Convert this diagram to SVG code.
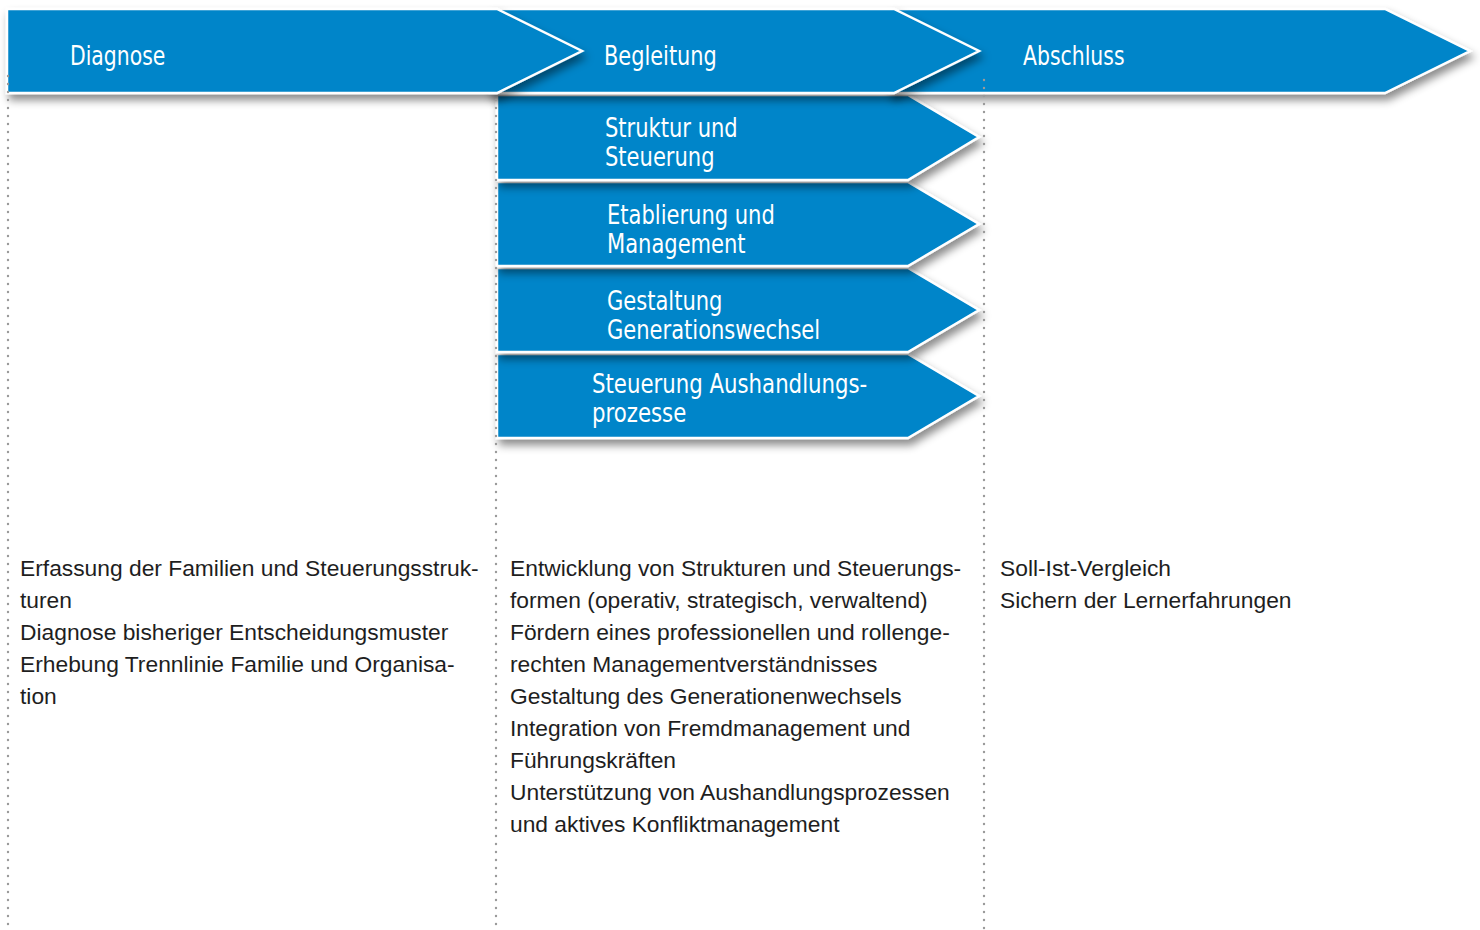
<svg xmlns="http://www.w3.org/2000/svg" width="1480" height="930" viewBox="0 0 1480 930">
<defs>
<filter id="sh" x="-10%" y="-30%" width="130%" height="180%">
<feDropShadow dx="3" dy="6" stdDeviation="4" flood-color="#000" flood-opacity="0.45"/>
</filter>
<style>
.ar{fill:#0085c9;stroke:#fff;stroke-width:2.5;stroke-linejoin:miter;filter:url(#sh)}
.t{font-family:"DejaVu Sans Condensed","Liberation Sans Narrow","Roboto Condensed","DejaVu Sans",sans-serif;font-stretch:condensed;fill:#fff}
.h{font-size:27px}
.s{font-size:26px}
.b{font-family:"Liberation Sans",Arial,sans-serif;font-size:22.8px;fill:#1e1e1e}
.dot{stroke:#9a9a9a;stroke-width:2.4;stroke-linecap:round;stroke-dasharray:0 8;fill:none}
</style>
</defs>
<rect width="1480" height="930" fill="#fff"/>
<g id="sub4"><polygon class="ar" points="497,354 908,354 979,396 908,438 497,438"/>
<text class="t s" transform="translate(592,393) scale(0.91,1)">Steuerung Aushandlungs-</text><text class="t s" transform="translate(592,422) scale(0.91,1)">prozesse</text></g>
<g id="sub3"><polygon class="ar" points="497,268 908,268 979,310 908,352 497,352"/>
<text class="t s" transform="translate(607,310) scale(0.9,1)">Gestaltung</text><text class="t s" transform="translate(607,339) scale(0.9,1)">Generationswechsel</text></g>
<g id="sub2"><polygon class="ar" points="497,182 908,182 979,224 908,266 497,266"/>
<text class="t s" transform="translate(607,224) scale(0.9,1)">Etablierung und</text><text class="t s" transform="translate(607,253) scale(0.9,1)">Management</text></g>
<g id="sub1"><polygon class="ar" points="497,95 908,95 979,137 908,180 497,180"/>
<text class="t s" transform="translate(605,137) scale(0.9,1)">Struktur und</text><text class="t s" transform="translate(605,166) scale(0.9,1)">Steuerung</text></g>
<g id="abschluss"><polygon class="ar" points="890,9 1385,9 1470,51 1385,93 890,93"/>
<text class="t h" transform="translate(1023,65) scale(0.84,1)">Abschluss</text></g>
<g id="begleitung"><polygon class="ar" points="490,9 894,9 979,51 894,93 490,93"/>
<text class="t h" transform="translate(604,65) scale(0.86,1)">Begleitung</text></g>
<g id="diagnose"><polygon class="ar" points="7,9 497,9 582,51 497,93 7,93"/>
<text class="t h" transform="translate(70,65) scale(0.84,1)">Diagnose</text></g>
<g id="connectors">
<line class="dot" x1="8" y1="76" x2="8" y2="930"/>
<line class="dot" x1="496" y1="100" x2="496" y2="930"/>
<line class="dot" x1="984" y1="80" x2="984" y2="930"/>
</g>
<g id="text-diagnose">
<text class="b" x="20" y="576">Erfassung der Familien und Steuerungsstruk-</text>
<text class="b" x="20" y="608">turen</text>
<text class="b" x="20" y="640">Diagnose bisheriger Entscheidungsmuster</text>
<text class="b" x="20" y="672">Erhebung Trennlinie Familie und Organisa-</text>
<text class="b" x="20" y="704">tion</text>
</g>
<g id="text-begleitung">
<text class="b" x="510" y="576">Entwicklung von Strukturen und Steuerungs-</text>
<text class="b" x="510" y="608">formen (operativ, strategisch, verwaltend)</text>
<text class="b" x="510" y="640">Fördern eines professionellen und rollenge-</text>
<text class="b" x="510" y="672">rechten Managementverständnisses</text>
<text class="b" x="510" y="704">Gestaltung des Generationenwechsels</text>
<text class="b" x="510" y="736">Integration von Fremdmanagement und</text>
<text class="b" x="510" y="768">Führungskräften</text>
<text class="b" x="510" y="800">Unterstützung von Aushandlungsprozessen</text>
<text class="b" x="510" y="832">und aktives Konfliktmanagement</text>
</g>
<g id="text-abschluss">
<text class="b" x="1000" y="576">Soll-Ist-Vergleich</text>
<text class="b" x="1000" y="608">Sichern der Lernerfahrungen</text>
</g>
</svg>
